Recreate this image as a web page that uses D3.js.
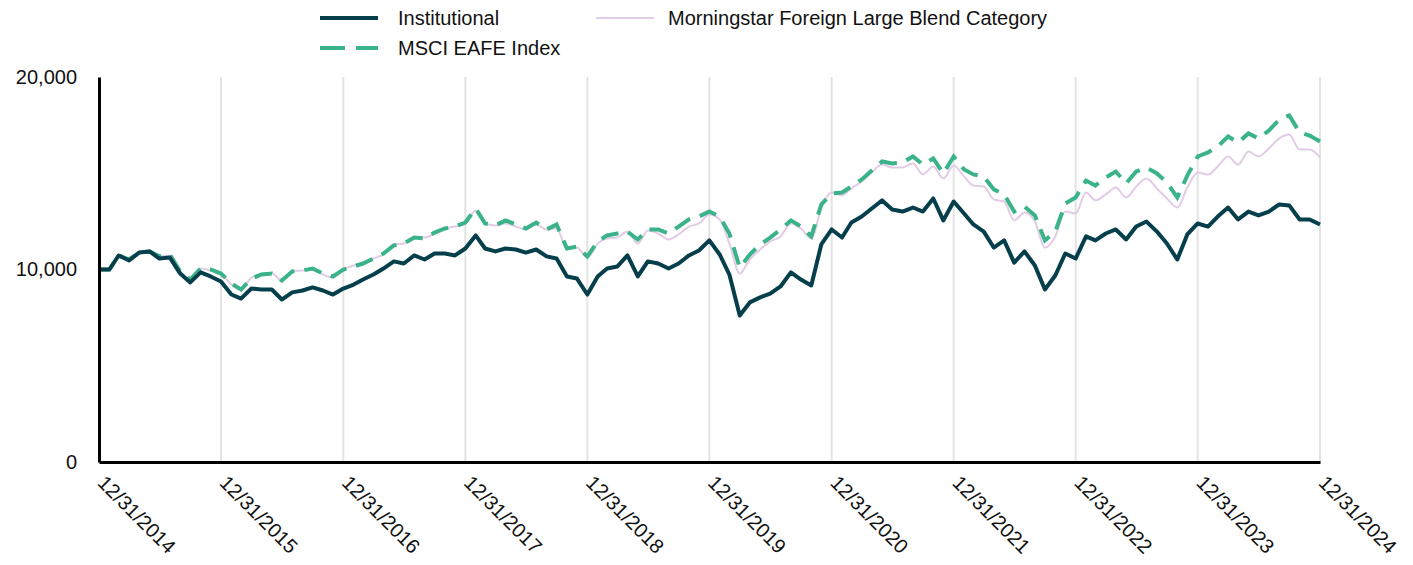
<!DOCTYPE html>
<html>
<head>
<meta charset="utf-8">
<script src="https://cdn.jsdelivr.net/npm/d3@7"></script>
<style>
  body { margin: 0; background: #fff; font-family: "Liberation Sans", Arial, sans-serif; }
</style>
</head>
<body>
<div id="chart"></div>
<script>
// series names
const seriesNames = ["Institutional", "MSCI EAFE Index", "Morningstar Foreign Large Blend Category"]

// monthly values, 12/31/2014 .. 12/31/2024 (growth of 10,000)
const institutional = [10000,
  10000,10730,10470,10880,10940,10570,10620,9790,9330,9850,9640,9380,
  8700,8490,9010,8960,8960,8440,8810,8910,9070,8910,8700,9010,
  9220,9480,9740,10050,10420,10310,10730,10520,10830,10830,10730,11090,
  11770,11090,10940,11090,11040,10880,11040,10680,10570,9640,9530,8700,
  9640,10050,10160,10730,9640,10420,10310,10050,10310,10730,10990,11510,
  10780,9740,7610,8290,8550,8750,9120,9850,9480,9170,11300,12080,
  11660,12440,12750,13170,13590,13120,13010,13220,13010,13690,12550,13530,
  12910,12340,11970,11140,11510,10360,10940,10210,8960,9690,10830,10570,
  11720,11510,11870,12080,11560,12230,12490,11970,11350,10520,11820,12390,
  12230,12750,13220,12600,13010,12810,13010,13380,13330,12600,12600,12340]

const msciEafe = [10000,
  10000,10730,10520,10880,10940,10680,10780,9900,9480,10050,10000,9790,
  9270,8960,9530,9740,9790,9430,9900,9950,10050,9790,9640,10000,
  10160,10310,10570,10830,11250,11350,11660,11610,11920,12130,12230,12440,
  13170,12390,12290,12550,12340,12130,12440,12080,12340,11090,11190,10680,
  11460,11770,11870,11970,11560,12080,12080,11870,12230,12600,12750,13010,
  12750,11870,10100,10780,11300,11660,12080,12550,12230,11720,13380,13950,
  14000,14310,14680,15140,15610,15510,15560,15870,15450,15770,14990,15870,
  15200,14940,14830,14160,13900,13010,13270,12810,11510,11970,13430,13740,
  14620,14360,14780,15090,14470,15090,15300,14990,14520,13740,14880,15870,
  16080,16390,16910,16600,17070,16810,17220,17790,18000,17120,16960,16650]

const morningstar = [10000,
  10000,10620,10520,10880,10940,10680,10730,9900,9480,10050,9950,9790,
  9220,8960,9580,9740,9790,9430,9900,9950,10000,9740,9580,10000,
  10210,10360,10570,10780,11300,11350,11660,11660,11870,12130,12230,12390,
  13070,12390,12290,12390,12230,12080,12340,12080,12130,11090,11140,10620,
  11350,11610,11660,11970,11350,12030,11870,11560,11820,12230,12390,12860,
  12600,11350,9790,10520,11040,11460,11720,12390,12130,11610,13170,14000,
  13850,14210,14570,15040,15450,15300,15300,15510,14940,15350,14730,15400,
  14830,14360,14310,13640,13530,12550,12960,12490,11140,11720,13010,12910,
  14000,13590,13900,14260,13740,14310,14730,14210,13690,13220,14260,15040,
  14940,15350,15870,15450,16130,15870,16290,16810,17010,16230,16230,15820]

const tickLabels = ["12/31/2014","12/31/2015","12/31/2016","12/31/2017","12/31/2018","12/31/2019",
  "12/31/2020","12/31/2021","12/31/2022","12/31/2023","12/31/2024"]
const yTicks = [0, 10000, 20000]

const width = 1413
const height = 565
const margin = {top: 77, right: 93, bottom: 103, left: 99}
const fontSize = 20

const colors = {
  inst: "#063f4c",
  msci: "#3ab38a",
  ms: "#e2cbe6"
}

const parseDate = d3.timeParse("%m/%d/%Y")
// month-end dates for each observation
const dates = institutional.map((d, i) => new Date(2014, 12 + i, 0))

const svg = d3.select("#chart").append("svg")
  .attr("width", width)
  .attr("height", height)

const x = d3.scaleTime()
  .domain([parseDate(tickLabels[0]), parseDate(tickLabels[tickLabels.length - 1])])
  .range([margin.left, width - margin.right])
const y = d3.scaleLinear()
  .domain([0, 20000])
  .range([height - margin.bottom, margin.top])

// vertical grid lines at each year end
svg.append("g")
  .selectAll("line")
  .data(tickLabels.slice(1))
  .join("line")
  .attr("x1", d => x(parseDate(d)))
  .attr("x2", d => x(parseDate(d)))
  .attr("y1", y(20000))
  .attr("y2", y(0))
  .attr("stroke", "#e3e3e3")
  .attr("stroke-width", 2)

// lines
const lineLinear = d3.line()
  .x((d, i) => x(dates[i]))
  .y(d => y(d))
const lineSmooth = d3.line()
  .x((d, i) => x(dates[i]))
  .y(d => y(d))
  .curve(d3.curveMonotoneX)

svg.append("path")
  .datum(morningstar)
  .attr("d", lineSmooth)
  .attr("fill", "none")
  .attr("stroke", colors.ms)
  .attr("stroke-width", 2)

svg.append("path")
  .datum(msciEafe)
  .attr("d", lineLinear)
  .attr("fill", "none")
  .attr("stroke", colors.msci)
  .attr("stroke-width", 4)
  .attr("stroke-dasharray", "18,10")

svg.append("path")
  .datum(institutional)
  .attr("d", lineLinear)
  .attr("fill", "none")
  .attr("stroke", colors.inst)
  .attr("stroke-width", 4)
  .attr("stroke-linejoin", "round")

// y axis
const yAxis = svg.append("g")
  .attr("transform", `translate(${margin.left},0)`)
  .call(d3.axisLeft(y).tickValues(yTicks).tickSize(0).tickPadding(22).tickFormat(d3.format(",")))
yAxis.select(".domain").attr("stroke", "#000").attr("stroke-width", 3)
yAxis.selectAll("text")
  .attr("font-family", "'Liberation Sans', Arial, sans-serif")
  .attr("font-size", fontSize)
  .attr("fill", "#111")

// x axis
const xAxis = svg.append("g")
  .attr("transform", `translate(0,${height - margin.bottom})`)
  .call(d3.axisBottom(x).tickValues(tickLabels.map(parseDate)).tickSize(0).tickFormat(d3.timeFormat("%m/%d/%Y")))
xAxis.select(".domain").attr("stroke", "#000").attr("stroke-width", 3)
xAxis.selectAll("text")
  .attr("font-family", "'Liberation Sans', Arial, sans-serif")
  .attr("font-size", fontSize)
  .attr("fill", "#111")
  .attr("text-anchor", "start")
  .attr("dy", 0)
  .attr("y", 0)
  .attr("transform", "translate(-3,22) rotate(45)")

// legend
const legendItems = [
  {name: seriesNames[0], color: colors.inst, w: 4, dash: null, lx: 320, ly: 18, tx: 398},
  {name: seriesNames[1], color: colors.msci, w: 4, dash: "25,11", lx: 320, ly: 48, tx: 398},
  {name: seriesNames[2], color: colors.ms, w: 2, dash: null, lx: 596, ly: 18, tx: 668}
]
const legend = svg.append("g")
legend.selectAll("line")
  .data(legendItems)
  .join("line")
  .attr("x1", d => d.lx)
  .attr("x2", d => d.lx + 58)
  .attr("y1", d => d.ly)
  .attr("y2", d => d.ly)
  .attr("stroke", d => d.color)
  .attr("stroke-width", d => d.w)
  .attr("stroke-dasharray", d => d.dash)
legend.selectAll("text")
  .data(legendItems)
  .join("text")
  .attr("x", d => d.tx)
  .attr("y", d => d.ly)
  .attr("dy", "0.35em")
  .attr("font-size", fontSize)
  .attr("fill", "#111")
  .text(d => d.name)
</script>
</body>
</html>
